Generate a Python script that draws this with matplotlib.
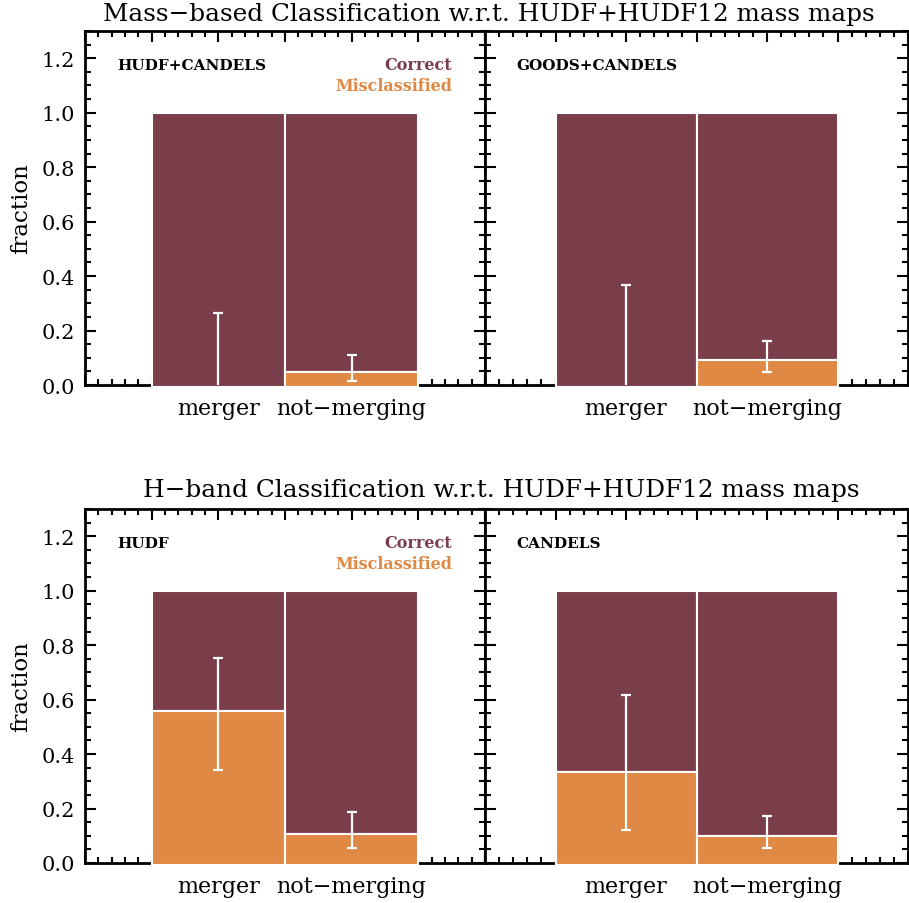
import numpy as np
import matplotlib
matplotlib.use('Agg')
import matplotlib.pyplot as plt
from matplotlib.ticker import MultipleLocator

plt.rcParams['font.family'] = 'DejaVu Serif'

# data
categories = ['merger', 'not-merging']
panel_names = ['HUDF+CANDELS', 'GOODS+CANDELS', 'HUDF', 'CANDELS']
# misclassified fraction per category
mis_frac = [[0.0, 0.046], [0.0, 0.093], [0.557, 0.106], [0.333, 0.099]]
err_lo = [[0.0, 0.016], [0.0, 0.049], [0.341, 0.056], [0.122, 0.054]]
err_hi = [[0.265, 0.110], [0.368, 0.163], [0.754, 0.186], [0.616, 0.171]]
titles = ['Mass\u2212based Classification w.r.t. HUDF+HUDF12 mass maps',
          'H\u2212band Classification w.r.t. HUDF+HUDF12 mass maps']
legend_labels = ['Correct', 'Misclassified']

c_correct = '#7a3d4a'
c_mis = '#e08944'

W, H = 909, 904
fig = plt.figure(figsize=(W/100, H/100), dpi=100)

# axes boxes in pixels: left, right, top, bottom
boxes = [(85, 485, 32, 386), (485, 908, 32, 386),
         (85, 485, 510, 864), (485, 908, 510, 864)]

xpos = np.array([1.0, 2.0])
base = -0.006  # bars hide the bottom axis line, like the original

for i, (l, r, t, b) in enumerate(boxes):
    ax = fig.add_axes([l/W, 1 - b/H, (r-l)/W, (b-t)/H])
    ax.set_xlim(0, 3)
    ax.set_ylim(0, 1.3)

    mis = np.array(mis_frac[i])
    bot = np.where(mis > 0, mis, base)
    ax.bar(xpos, 1.0 - bot, width=1.0, bottom=bot, color=c_correct,
           edgecolor='white', linewidth=1.5, zorder=3, clip_on=False)
    has = mis > 0
    ax.bar(xpos[has], mis[has] - base, width=1.0, bottom=base, color=c_mis,
           edgecolor='white', linewidth=1.5, zorder=3, clip_on=False)

    # error bars (no cap where the error is zero)
    lo = np.array(err_lo[i])
    hi = np.array(err_hi[i])
    ax.vlines(xpos, lo, hi, color='white', lw=1.6, zorder=4)
    ax.plot(xpos, hi, ls='none', marker='_', ms=7, mew=1.6, color='white', zorder=4)
    cap = lo < mis
    ax.plot(xpos[cap], lo[cap], ls='none', marker='_', ms=7, mew=1.6, color='white', zorder=4)

    ax.set_xticks([0, 0.5, 1, 1.5, 2, 2.5, 3])
    ax.xaxis.set_minor_locator(MultipleLocator(0.1))
    ax.yaxis.set_major_locator(MultipleLocator(0.2))
    ax.yaxis.set_minor_locator(MultipleLocator(0.05))
    ax.set_xticklabels(['', '', categories[0], '', categories[1].replace('-', '\u2212'), '', ''],
                       fontsize=16)
    ax.tick_params(which='both', direction='in', top=True, right=True, width=1.5)
    ax.tick_params(which='major', length=8)
    ax.tick_params(which='minor', length=4)
    ax.tick_params(axis='x', pad=9)
    ax.tick_params(axis='y', pad=7, labelsize=15)
    for s in ax.spines.values():
        s.set_linewidth(2)

    if i % 2 == 0:
        ax.set_ylabel('fraction', fontsize=16.5, labelpad=7)
        ax.text(0.08, 0.904, panel_names[i], transform=ax.transAxes,
                fontsize=11, fontweight='bold', va='center', ha='left')
        ax.text(0.9175, 0.904, legend_labels[0], transform=ax.transAxes,
                fontsize=11.5, fontweight='bold', color=c_correct, va='center', ha='right')
        ax.text(0.9175, 0.845, legend_labels[1], transform=ax.transAxes,
                fontsize=11.5, fontweight='bold', color=c_mis, va='center', ha='right')
    else:
        ax.set_yticklabels([])
        ax.text(0.075, 0.904, panel_names[i], transform=ax.transAxes,
                fontsize=11, fontweight='bold', va='center', ha='left')

fig.text(489/W, 1 - 14/H, titles[0], fontsize=17.8, ha='center', va='center')
fig.text(501/W, 1 - 491/H, titles[1], fontsize=17.8, ha='center', va='center')

fig.savefig('out.png', dpi=100)
